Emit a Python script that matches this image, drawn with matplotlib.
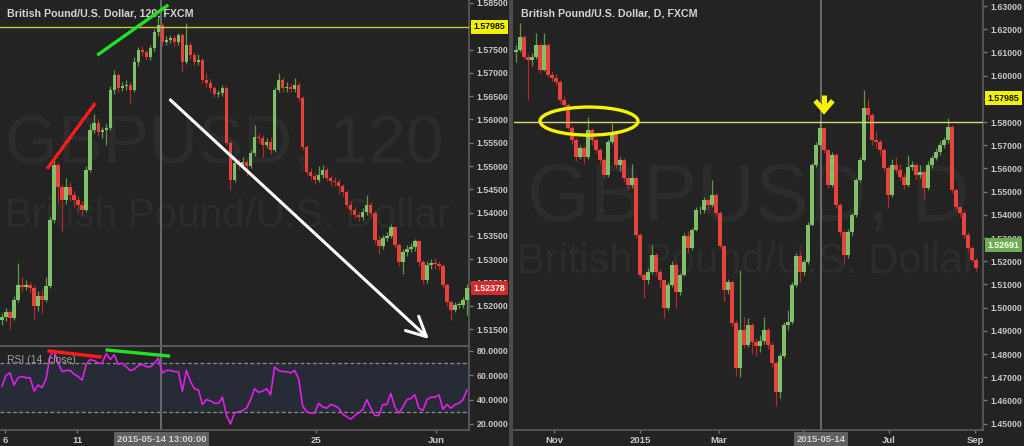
import matplotlib
matplotlib.use("Agg")
import matplotlib.pyplot as plt
from matplotlib.patches import Ellipse, Rectangle
import numpy as np

W, H = 1024, 446
BG = "#232323"
TXT = "#c8c8c8"
GREEN = "#80c068"
RED = "#e5433c"
GREEN_WICK = "#5d9a45"
RED_WICK = "#b52a25"
AXIS_LINE = "#5c5c5c"
WATERMARK = "#2c2c2c"
LABEL_FONT = "Liberation Sans"

# ---- left chart: GBPUSD 120 min (one candle per two bars) ----
l_first_open = 1.5170
l_close = [
    1.5176, 1.5187, 1.5174, 1.5213, 1.5245, 1.5241, 1.5245, 1.5238, 1.5200, 1.5221,
    1.5213, 1.5243, 1.5384, 1.5502, 1.5455, 1.5427, 1.5455, 1.5438, 1.5427, 1.5417,
    1.5406, 1.5492, 1.5577, 1.5592, 1.5573, 1.5577, 1.5582, 1.5663, 1.5695, 1.5668,
    1.5672, 1.5674, 1.5663, 1.5723, 1.5749, 1.5745, 1.5734, 1.5753, 1.5788, 1.5803,
    1.5766, 1.5771, 1.5775, 1.5766, 1.5781, 1.5723, 1.5760, 1.5738, 1.5723, 1.5728,
    1.5685, 1.5678, 1.5668, 1.5655, 1.5657, 1.5668, 1.5550, 1.5470, 1.5507, 1.5502,
    1.5509, 1.5500, 1.5528, 1.5562, 1.5560, 1.5545, 1.5552, 1.5535, 1.5663, 1.5685,
    1.5668, 1.5670, 1.5665, 1.5674, 1.5646, 1.5541, 1.5487, 1.5479, 1.5470, 1.5481,
    1.5492, 1.5474, 1.5468, 1.5466, 1.5457, 1.5444, 1.5417, 1.5406, 1.5395, 1.5391,
    1.5401, 1.5417, 1.5399, 1.5341, 1.5329, 1.5346, 1.5350, 1.5369, 1.5331, 1.5294,
    1.5316, 1.5322, 1.5326, 1.5339, 1.5294, 1.5256, 1.5288, 1.5292, 1.5290, 1.5286,
    1.5245, 1.5208, 1.5191, 1.5202, 1.5202, 1.5213, 1.5238,
]
l_high = [
    1.5185, 1.5195, 1.5192, 1.5222, 1.5292, 1.5262, 1.5255, 1.5252, 1.5244, 1.5232,
    1.5236, 1.5262, 1.5390, 1.5513, 1.5508, 1.5462, 1.5475, 1.5466, 1.5447, 1.5436,
    1.5425, 1.5500, 1.5590, 1.5612, 1.5600, 1.5584, 1.5590, 1.5672, 1.5706, 1.5700,
    1.5680, 1.5684, 1.5680, 1.5735, 1.5756, 1.5758, 1.5750, 1.5760, 1.5795, 1.5818,
    1.5808, 1.5780, 1.5782, 1.5781, 1.5786, 1.5785, 1.5807, 1.5766, 1.5745, 1.5740,
    1.5733, 1.5700, 1.5686, 1.5672, 1.5664, 1.5674, 1.5672, 1.5556, 1.5515, 1.5515,
    1.5520, 1.5516, 1.5535, 1.5588, 1.5572, 1.5566, 1.5560, 1.5562, 1.5670, 1.5700,
    1.5692, 1.5680, 1.5678, 1.5690, 1.5680, 1.5650, 1.5546, 1.5495, 1.5486, 1.5500,
    1.5502, 1.5498, 1.5478, 1.5476, 1.5472, 1.5462, 1.5448, 1.5424, 1.5412, 1.5402,
    1.5410, 1.5438, 1.5422, 1.5404, 1.5350, 1.5352, 1.5358, 1.5376, 1.5372, 1.5336,
    1.5322, 1.5330, 1.5334, 1.5344, 1.5342, 1.5298, 1.5296, 1.5300, 1.5302, 1.5296,
    1.5290, 1.5250, 1.5212, 1.5208, 1.5208, 1.5220, 1.5246,
]
l_low = [
    1.5160, 1.5168, 1.5150, 1.5170, 1.5208, 1.5232, 1.5234, 1.5228, 1.5172, 1.5190,
    1.5185, 1.5208, 1.5238, 1.5378, 1.5420, 1.5359, 1.5418, 1.5425, 1.5412, 1.5405,
    1.5396, 1.5402, 1.5488, 1.5570, 1.5565, 1.5560, 1.5545, 1.5578, 1.5655, 1.5660,
    1.5662, 1.5664, 1.5635, 1.5658, 1.5715, 1.5736, 1.5728, 1.5728, 1.5748, 1.5780,
    1.5758, 1.5760, 1.5764, 1.5758, 1.5760, 1.5702, 1.5718, 1.5730, 1.5716, 1.5716,
    1.5678, 1.5670, 1.5660, 1.5648, 1.5648, 1.5650, 1.5545, 1.5449, 1.5465, 1.5494,
    1.5495, 1.5478, 1.5495, 1.5522, 1.5550, 1.5520, 1.5538, 1.5525, 1.5530, 1.5658,
    1.5660, 1.5660, 1.5658, 1.5660, 1.5640, 1.5535, 1.5480, 1.5470, 1.5462, 1.5465,
    1.5475, 1.5468, 1.5460, 1.5458, 1.5440, 1.5436, 1.5410, 1.5398, 1.5388, 1.5382,
    1.5385, 1.5396, 1.5390, 1.5335, 1.5312, 1.5322, 1.5340, 1.5345, 1.5325, 1.5285,
    1.5268, 1.5308, 1.5315, 1.5318, 1.5285, 1.5248, 1.5250, 1.5280, 1.5280, 1.5276,
    1.5238, 1.5200, 1.5170, 1.5186, 1.5195, 1.5196, 1.5180,
]
rsi_vals = [
    51, 60, 62, 52, 58, 59, 58, 58, 47, 52,
    50, 57, 76, 80, 70, 63, 64, 64, 61, 59,
    56, 69, 73, 72, 70, 70, 78, 73, 77, 69,
    70, 67, 64, 65, 68, 69, 67, 67, 70, 74,
    62, 64, 64, 63, 63, 47, 64, 55, 49, 48,
    36, 40, 39, 37, 37, 42, 27, 20, 29, 30,
    31, 33, 40, 49, 46, 47, 49, 44, 67, 64,
    63, 63, 62, 64, 57, 35, 30, 29, 29, 37,
    34, 33, 36, 35, 33, 28, 26, 24, 27, 29,
    32, 40, 33, 27, 27, 36, 36, 45, 34, 29,
    34, 40, 41, 44, 33, 31, 40, 42, 42, 44,
    32, 36, 33, 36, 37, 40, 48,
]
l_tick_pos = [0.75, 18.75, 78.25, 108.25]
l_tick_lab = ["6", "11", "25", "Jun"]
l_cross = 39.75
l_cross_label = "2015-05-14 13:00:00"
l_last = 1.52378

# ---- right chart: GBPUSD daily (one candle per two days) ----
r_first_open = 1.6100
r_close = [
    1.6110, 1.6166, 1.6080, 1.6067, 1.6080, 1.6132, 1.6024, 1.6132, 1.6003, 1.5990,
    1.5972, 1.5895, 1.5873, 1.5774, 1.5722, 1.5649, 1.5688, 1.5649, 1.5766, 1.5722,
    1.5679, 1.5636, 1.5572, 1.5714, 1.5753, 1.5615, 1.5636, 1.5559, 1.5529, 1.5559,
    1.5313, 1.5141, 1.5119, 1.5154, 1.5227, 1.5154, 1.5119, 1.4998, 1.5098, 1.5184,
    1.5067, 1.5141, 1.5309, 1.5257, 1.5335, 1.5421, 1.5421, 1.5464, 1.5442, 1.5485,
    1.5408, 1.5266, 1.5076, 1.5110, 1.4934, 1.4740, 1.4904, 1.4839, 1.4925, 1.4852,
    1.4835, 1.4856, 1.4904, 1.4839, 1.4761, 1.4636, 1.4792, 1.4925, 1.4938, 1.5098,
    1.5223, 1.5154, 1.5197, 1.5356, 1.5615, 1.5701, 1.5774, 1.5679, 1.5529, 1.5658,
    1.5442, 1.5326, 1.5227, 1.5326, 1.5399, 1.5550, 1.5636, 1.5860, 1.5830, 1.5722,
    1.5714, 1.5679, 1.5602, 1.5485, 1.5615, 1.5593, 1.5563, 1.5529, 1.5606, 1.5615,
    1.5572, 1.5585, 1.5516, 1.5615, 1.5645, 1.5671, 1.5701, 1.5722, 1.5779, 1.5507,
    1.5434, 1.5408, 1.5313, 1.5257, 1.5205, 1.5171,
]
r_high = [
    1.6130, 1.6227, 1.6175, 1.6095, 1.6098, 1.6184, 1.6140, 1.6184, 1.6140, 1.6020,
    1.6005, 1.5980, 1.5910, 1.5880, 1.5785, 1.5730, 1.5700, 1.5698, 1.5822, 1.5775,
    1.5730, 1.5690, 1.5645, 1.5725, 1.5796, 1.5760, 1.5650, 1.5645, 1.5565, 1.5620,
    1.5565, 1.5320, 1.5150, 1.5170, 1.5270, 1.5235, 1.5165, 1.5125, 1.5110, 1.5200,
    1.5192, 1.5150, 1.5320, 1.5330, 1.5345, 1.5435, 1.5440, 1.5475, 1.5470, 1.5550,
    1.5492, 1.5415, 1.5272, 1.5125, 1.5118, 1.4945, 1.5162, 1.4960, 1.4955, 1.4935,
    1.4870, 1.4880, 1.4960, 1.4915, 1.4850, 1.4770, 1.4805, 1.4940, 1.4990, 1.5110,
    1.5235, 1.5240, 1.5210, 1.5370, 1.5625, 1.5712, 1.5809, 1.5780, 1.5685, 1.5670,
    1.5665, 1.5450, 1.5335, 1.5340, 1.5410, 1.5560, 1.5650, 1.5938, 1.5900, 1.5840,
    1.5760, 1.5725, 1.5690, 1.5610, 1.5640, 1.5650, 1.5620, 1.5580, 1.5660, 1.5630,
    1.5625, 1.5615, 1.5595, 1.5630, 1.5660, 1.5690, 1.5720, 1.5735, 1.5817, 1.5785,
    1.5515, 1.5440, 1.5420, 1.5325, 1.5265, 1.5212,
]
r_low = [
    1.6060, 1.6100, 1.6070, 1.5895, 1.6040, 1.6070, 1.6010, 1.6018, 1.5995, 1.5975,
    1.5960, 1.5880, 1.5850, 1.5765, 1.5705, 1.5630, 1.5640, 1.5620, 1.5640, 1.5700,
    1.5665, 1.5620, 1.5560, 1.5565, 1.5705, 1.5600, 1.5590, 1.5540, 1.5505, 1.5515,
    1.5300, 1.5130, 1.5042, 1.5100, 1.5145, 1.5140, 1.5090, 1.4955, 1.4990, 1.5090,
    1.5000, 1.5055, 1.5135, 1.5240, 1.5250, 1.5330, 1.5405, 1.5410, 1.5420, 1.5435,
    1.5395, 1.5255, 1.5029, 1.5060, 1.4920, 1.4705, 1.4700, 1.4825, 1.4830, 1.4800,
    1.4790, 1.4810, 1.4845, 1.4820, 1.4745, 1.4576, 1.4610, 1.4785, 1.4905, 1.4930,
    1.5090, 1.5110, 1.5140, 1.5190, 1.5350, 1.5605, 1.5695, 1.5665, 1.5515, 1.5520,
    1.5430, 1.5310, 1.5190, 1.5215, 1.5310, 1.5390, 1.5540, 1.5630, 1.5810, 1.5700,
    1.5690, 1.5660, 1.5590, 1.5430, 1.5475, 1.5580, 1.5550, 1.5510, 1.5520, 1.5595,
    1.5555, 1.5560, 1.5470, 1.5505, 1.5600, 1.5635, 1.5660, 1.5690, 1.5710, 1.5495,
    1.5420, 1.5390, 1.5300, 1.5240, 1.5195, 1.5160,
]
r_tick_pos = [9.5, 31, 50.75, 71.75, 93.25, 114.75]
r_tick_lab = ["Nov", "2015", "Mar", "May", "Jul", "Sep"]
r_cross = 76.25
r_cross_label = "2015-05-14"
r_last = 1.52691

level = 1.57985
level_label_pos = 1.5903   # the right-hand yellow tag sits above the line in the reference


def rect(x0, y0, x1, y1):
    return [x0 / W, 1 - y1 / H, (x1 - x0) / W, (y1 - y0) / H]


def bold_labels(ax):
    for lab in ax.get_yticklabels() + ax.get_xticklabels():
        lab.set_family(LABEL_FONT)
        lab.set_weight("bold")


def style_axes(ax):
    ax.set_facecolor(BG)
    for side in ("top", "left"):
        ax.spines[side].set_visible(False)
    for side in ("right", "bottom"):
        ax.spines[side].set_color(AXIS_LINE)
        ax.spines[side].set_linewidth(1.2)
    ax.yaxis.tick_right()
    ax.tick_params(axis="y", colors="#777777", labelcolor=TXT, length=3, width=1,
                   labelsize=6.3, pad=2.5)
    ax.tick_params(axis="x", colors="#777777", labelcolor=TXT, length=2, width=1,
                   labelsize=6.8, pad=2)


def draw_candles(ax, first_open, closes, highs, lows):
    closes = np.array(closes)
    opens = np.concatenate([[first_open], closes[:-1]])
    highs = np.maximum(np.array(highs), np.maximum(opens, closes))
    lows = np.minimum(np.array(lows), np.minimum(opens, closes))
    idx = np.arange(len(closes))
    up = closes >= opens
    wick_col = np.where(up, GREEN_WICK, RED_WICK)
    body_col = np.where(up, GREEN, RED)
    ax.vlines(idx, lows, highs, colors=wick_col, linewidth=0.9, zorder=2)
    body = np.maximum(np.abs(closes - opens), 0.00015)
    ax.bar(idx, body, bottom=np.minimum(opens, closes), width=0.85,
           color=body_col, linewidth=0, zorder=3)


def price_box(ax, y, text, fc, tc):
    ax.annotate(text, xy=(1.0, y), xycoords=("axes fraction", "data"),
                xytext=(3.2, 0), textcoords="offset points", ha="left", va="center",
                fontsize=6.3, family=LABEL_FONT, weight="bold", color=tc,
                bbox=dict(boxstyle="square,pad=0.3", fc=fc, ec="none"),
                annotation_clip=False, zorder=10)


def date_box(ax, x, text):
    ax.annotate(text, xy=(x, 0), xycoords=("data", "axes fraction"),
                xytext=(0, -7), textcoords="offset points", ha="center", va="center",
                fontsize=6.8, family=LABEL_FONT, weight="bold", color="#d0d0d0",
                bbox=dict(boxstyle="square,pad=0.3", fc="#606060", ec="none"),
                annotation_clip=False, zorder=10)


def title(ax, text):
    ax.annotate(text, xy=(0, 1), xycoords="axes fraction",
                xytext=(5, -10), textcoords="offset points", ha="left", va="center",
                fontsize=7.7, family=LABEL_FONT, weight="bold", color="#d4d4d4",
                zorder=6)


fig = plt.figure(figsize=(W / 100, H / 100), dpi=100, facecolor=BG)

# divider between the two panels
fig.add_artist(Rectangle((509 / W, 0), 4 / W, 1, transform=fig.transFigure,
                         fc="#4c4c4c", ec="none"))

# ---------------- left price pane ----------------
ax_l = fig.add_axes(rect(0, 0, 469, 346))
style_axes(ax_l)
draw_candles(ax_l, l_first_open, l_close, l_high, l_low)
ax_l.set_xlim(-0.5, 116.5)
ax_l.set_ylim(1.51139, 1.58564)
ax_l.set_yticks(np.arange(1.515, 1.5851, 0.005))
ax_l.yaxis.set_major_formatter(plt.FormatStrFormatter("%.5f"))
ax_l.set_xticks([])
bold_labels(ax_l)
ax_l.axhline(level, color="#c8c832", lw=1.0, zorder=4)
ax_l.axvline(l_cross, color="#707070", lw=1.3, zorder=1)
ax_l.text(0.01, 0.529, "GBPUSD, 120", transform=ax_l.transAxes, fontsize=49,
          family=LABEL_FONT, color=WATERMARK, ha="left", va="baseline", zorder=0)
ax_l.text(0.01, 0.344, "British Pound/U.S. Dollar", transform=ax_l.transAxes,
          fontsize=29, family=LABEL_FONT, color=WATERMARK, ha="left", va="baseline",
          zorder=0)
title(ax_l, "British Pound/U.S. Dollar, 120, FXCM")
# trend annotations
ax_l.plot([11.25, 23.25], [1.5494, 1.5635], color="#ff1a1a", lw=2.4, zorder=6,
          solid_capstyle="butt")
ax_l.plot([23.75, 41.5], [1.5738, 1.5846], color="#22e022", lw=2.4, zorder=6,
          solid_capstyle="butt")
ax_l.annotate("", xy=(107, 1.5125), xytext=(41.5, 1.5646),
              arrowprops=dict(arrowstyle="->,head_length=0.7,head_width=0.35",
                              color="white", lw=2.2, mutation_scale=20), zorder=6)
price_box(ax_l, level, "1.57985", "#f2f200", "#111111")
price_box(ax_l, l_last, "1.52378", "#d42a2a", "white")

# ---------------- left RSI pane ----------------
ax_rsi = fig.add_axes(rect(0, 346, 469, 430))
style_axes(ax_rsi)
ax_rsi.axhspan(30, 70, color="#262b36", zorder=0)
ax_rsi.axhline(70, color="#8c8c8c", lw=0.9, ls=(0, (3, 2)), zorder=1)
ax_rsi.axhline(30, color="#8c8c8c", lw=0.9, ls=(0, (3, 2)), zorder=1)
ax_rsi.plot(np.arange(len(rsi_vals)), rsi_vals, color="#e020e8", lw=1.2, zorder=3)
ax_rsi.set_xlim(-0.5, 116.5)
ax_rsi.set_ylim(15.06, 84.1)
ax_rsi.set_yticks([20, 40, 60, 80])
ax_rsi.yaxis.set_major_formatter(plt.FormatStrFormatter("%.4f"))
ax_rsi.set_xticks(l_tick_pos)
ax_rsi.set_xticklabels(l_tick_lab)
bold_labels(ax_rsi)
ax_rsi.spines["top"].set_visible(True)
ax_rsi.spines["top"].set_color(AXIS_LINE)
ax_rsi.axvline(l_cross, color="#707070", lw=1.3, zorder=2)
ax_rsi.annotate("RSI (14, close)", xy=(0, 1), xycoords="axes fraction",
                xytext=(5, -10), textcoords="offset points", ha="left", va="center",
                fontsize=7.5, family=LABEL_FONT, color="#a0a0a0", zorder=5)
ax_rsi.plot([11.75, 24.5], [80, 75.1], color="#ff1a1a", lw=2.4, zorder=6)
ax_rsi.plot([26.25, 41.5], [80.8, 75.9], color="#22e022", lw=2.4, zorder=6)
date_box(ax_rsi, l_cross, l_cross_label)

# ---------------- right daily pane ----------------
ax_r = fig.add_axes(rect(514, 0, 983, 430))
style_axes(ax_r)
draw_candles(ax_r, r_first_open, r_close, r_high, r_low)
ax_r.set_xlim(-0.5, 116.75)
ax_r.set_ylim(1.44726, 1.63259)
ax_r.set_yticks(np.arange(1.45, 1.6301, 0.01))
ax_r.yaxis.set_major_formatter(plt.FormatStrFormatter("%.5f"))
ax_r.set_xticks(r_tick_pos)
ax_r.set_xticklabels(r_tick_lab)
bold_labels(ax_r)
ax_r.axhline(level, color="#d8d870", lw=1.0, zorder=4)
ax_r.axvline(r_cross, color="#707070", lw=1.3, zorder=1)
ax_r.text(0.028, 0.488, "GBPUSD, D", transform=ax_r.transAxes, fontsize=58,
          family=LABEL_FONT, color=WATERMARK, ha="left", va="baseline", zorder=0)
ax_r.text(0.006, 0.365, "British Pound/U.S. Dollar", transform=ax_r.transAxes,
          fontsize=30, family=LABEL_FONT, color=WATERMARK, ha="left", va="baseline",
          zorder=0)
title(ax_r, "British Pound/U.S. Dollar, D, FXCM")
ax_r.add_patch(Ellipse((18.25, 1.5804), 24.5, 0.0121, fill=False, ec="#f5f500",
                       lw=2.4, zorder=6))
# yellow down arrow over the May high
ax_r.plot([77, 77], [1.5916, 1.5858], color="#f5f500", lw=3.6, zorder=7,
          solid_capstyle="butt")
ax_r.plot([74.8, 77, 79.2], [1.5892, 1.5848, 1.5892], color="#f5f500", lw=3.6,
          zorder=7, solid_joinstyle="miter", solid_capstyle="butt")
price_box(ax_r, level_label_pos, "1.57985", "#f2f200", "#111111")
price_box(ax_r, r_last, "1.52691", "#6fae55", "white")
date_box(ax_r, r_cross, r_cross_label)

fig.savefig("out.png", dpi=100, facecolor=BG)
